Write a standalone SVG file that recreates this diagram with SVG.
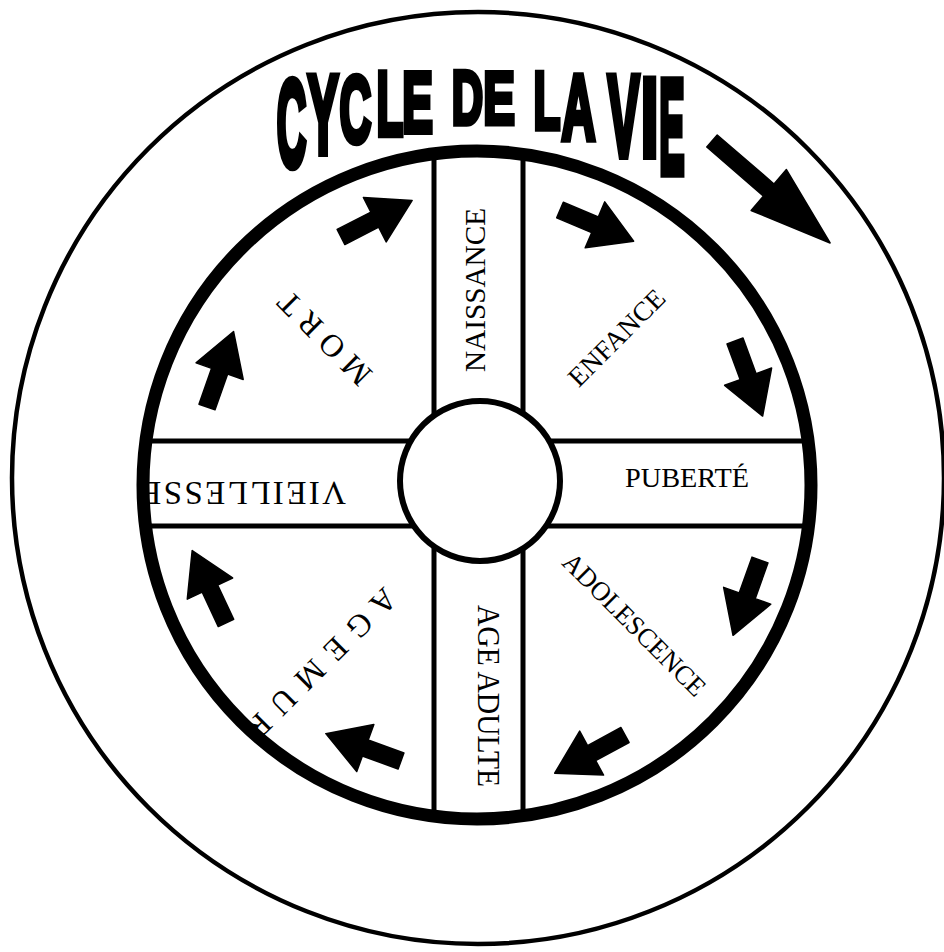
<svg xmlns="http://www.w3.org/2000/svg" xmlns:xlink="http://www.w3.org/1999/xlink" width="944" height="952" viewBox="0 0 944 952">
<style>
.lbl { font-family: "Liberation Serif", "Times New Roman", serif; fill: #000; }
.ttl { font-family: "Liberation Sans", Arial, sans-serif; font-weight: bold; font-size: 100px; fill: #000; stroke: #000; stroke-width: 7; text-anchor: middle; }
.ln { stroke: #000; stroke-width: 5; fill: none; }
.arr { fill: #000; stroke: #000; stroke-width: 1.5; stroke-linejoin: round; }
</style>
<defs>
<path id="sa" d="M0,-8.5 L38,-8.5 L38,-25 L80,0 L38,25 L38,8.5 L0,8.5 Z"/>
<path id="ba" d="M0,-8 L75,-8 L75,-27 L156,0 L75,27 L75,8 L0,8 Z"/>
</defs>
<rect width="944" height="952" fill="#fff"/>

<g id="outer-circle">
<circle cx="478" cy="478" r="466" fill="none" stroke="#000" stroke-width="4.5"/>
</g>

<g id="title">
<text class="ttl" transform="translate(291.5,166) scale(0.41,1.22)">C</text>
<text class="ttl" transform="translate(323,153) scale(0.46,1.11)">Y</text>
<text class="ttl" transform="translate(355.5,142) scale(0.44,0.95)">C</text>
<text class="ttl" transform="translate(390,135) scale(0.44,0.91)">L</text>
<text class="ttl" transform="translate(417.5,132) scale(0.46,0.85)">E</text>
<text class="ttl" transform="translate(467.5,124) scale(0.435,0.76)">D</text>
<text class="ttl" transform="translate(499,124) scale(0.475,0.75)">E</text>
<text class="ttl" transform="translate(547,129) scale(0.44,0.815)">L</text>
<text class="ttl" transform="translate(578.5,139) scale(0.47,0.92)">A</text>
<text class="ttl" transform="translate(623.5,156) scale(0.475,1.15)">V</text>
<text class="ttl" transform="translate(649.5,156) scale(0.62,1.11)">I</text>
<text class="ttl" transform="translate(672,172.5) scale(0.38,1.33)">E</text>
</g>

<g id="label-naissance">
<text class="lbl" font-size="30" text-anchor="middle" textLength="164" lengthAdjust="spacingAndGlyphs" transform="translate(485,290) rotate(-90)">NAISSANCE</text>
</g>
<g id="label-enfance">
<text class="lbl" font-size="27" text-anchor="middle" textLength="125" lengthAdjust="spacingAndGlyphs" transform="translate(623,344) rotate(-45)">ENFANCE</text>
</g>
<g id="label-puberte">
<text class="lbl" font-size="27" text-anchor="middle" textLength="124" lengthAdjust="spacingAndGlyphs" transform="translate(687,487)">PUBERTÉ</text>
</g>
<g id="label-adolescence">
<text class="lbl" font-size="27" text-anchor="middle" textLength="190" lengthAdjust="spacingAndGlyphs" transform="translate(628,631) rotate(45)">ADOLESCENCE</text>
</g>
<g id="label-age-adulte">
<text class="lbl" font-size="32" text-anchor="middle" textLength="182" lengthAdjust="spacingAndGlyphs" transform="translate(478,696) rotate(90)">AGE ADULTE</text>
</g>
<g id="label-age-mur">
<text class="lbl" font-size="32" text-anchor="start" textLength="198" lengthAdjust="spacing" transform="translate(384,586) rotate(135)">A G E M U R</text>
</g>
<g id="label-vieillesse">
<text class="lbl" font-size="33" text-anchor="start" textLength="205" lengthAdjust="spacing" transform="translate(346,482) rotate(180)">VIEILLESSE</text>
</g>
<g id="label-mort">
<text class="lbl" font-size="32" text-anchor="middle" textLength="118" lengthAdjust="spacing" transform="translate(332,331) rotate(225)">M O R T</text>
</g>

<g id="wheel">
<line class="ln" x1="434" y1="154" x2="434" y2="816"/>
<line class="ln" x1="523" y1="154" x2="523" y2="816"/>
<line class="ln" x1="146" y1="441" x2="808" y2="441"/>
<line class="ln" x1="146" y1="526" x2="808" y2="526"/>
<circle cx="477" cy="485" r="334" fill="none" stroke="#000" stroke-width="13"/>
</g>

<g id="hub">
<circle cx="480" cy="481" r="80" fill="#fff" stroke="#000" stroke-width="6"/>
</g>

<g id="connectors">
<use xlink:href="#ba" class="arr" transform="translate(712,141) rotate(40.8)"/>
<use xlink:href="#sa" class="arr" transform="translate(341,237) rotate(-27.2)"/>
<use xlink:href="#sa" class="arr" transform="translate(560,210) rotate(23)"/>
<use xlink:href="#sa" class="arr" transform="translate(735,341) rotate(69.8)"/>
<use xlink:href="#sa" class="arr" transform="translate(760,560) rotate(109.7)"/>
<use xlink:href="#sa" class="arr" transform="translate(625,735) rotate(151.5)"/>
<use xlink:href="#sa" class="arr" transform="translate(401,761) rotate(200)"/>
<use xlink:href="#sa" class="arr" transform="translate(226,623) rotate(245)"/>
<use xlink:href="#sa" class="arr" transform="translate(207,407) rotate(-70.6)"/>
</g>
</svg>
